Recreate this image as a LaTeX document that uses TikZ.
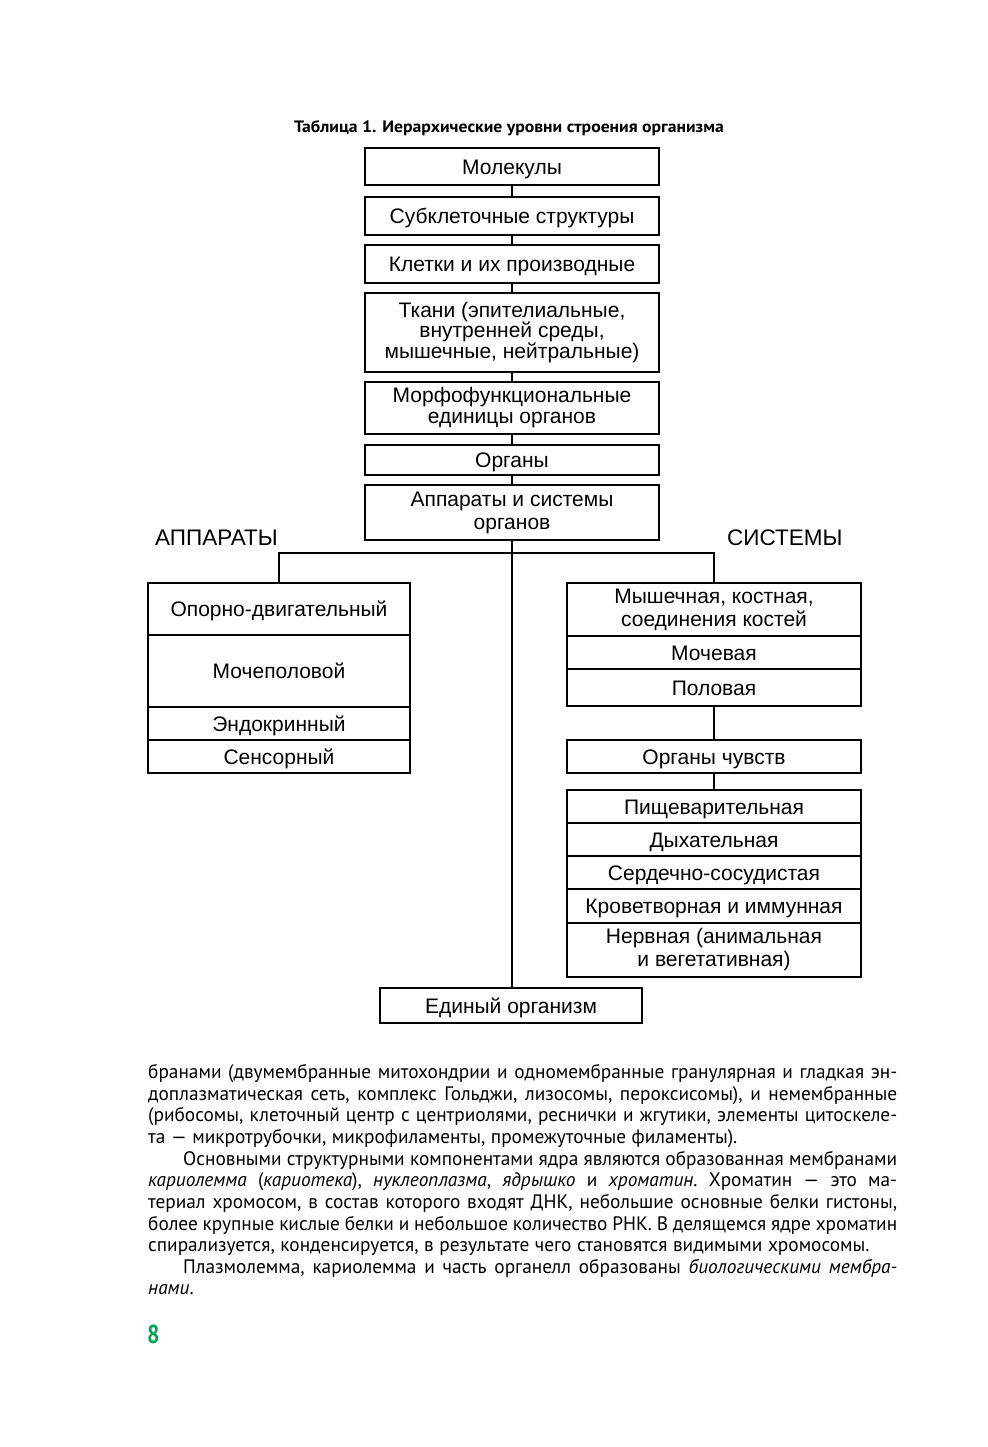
\documentclass[tikz,border=0pt]{standalone}
\usepackage{fontspec}
\setmainfont{Liberation Sans}
\newfontfamily\bodyfont[FakeStretch=0.99]{PT Sans}
\newfontfamily\titlefont[FakeStretch=1.07]{PT Sans}
\newfontfamily\numfont[FakeStretch=0.85]{PT Sans}
\definecolor{pagegreen}{RGB}{0,166,81}
\newcommand\diagfont[1]{\fontsize{21}{#1}\selectfont}
\newcommand\bodyline[2]{\makebox[#1][s]{#2}}
\newcommand\bodysetup{\bodyfont\fontsize{19.5}{21.7}\selectfont\frenchspacing\spaceskip=5.6pt plus 8pt minus 1.5pt\relax}
\tikzset{
  box/.style={draw, line width=2.8pt, inner sep=0pt, align=center, font=\diagfont{21.5}},
  one/.style={text height=19.5pt, text depth=4.4pt},
  conn/.style={line width=2.2pt},
  bodytext/.style={anchor=base west, inner sep=0pt, font=\bodysetup},
  label/.style={anchor=base west, inner sep=0pt, font=\fontsize{22.5}{24}\selectfont},
}
\begin{document}
\begin{tikzpicture}[x=1pt,y=-1pt]
\useasboundingbox[fill=white] (0,0) rectangle (987,1447);

\node[font=\titlefont\bfseries\fontsize{16.5}{18}\selectfont] (title) at (509,128) {Таблица 1. Иерархические уровни строения организма};

% central column
\node[box, one, minimum width=294, minimum height=37] (mol) at (512,166.5) {Молекулы};
\node[box, one, minimum width=294, minimum height=38] (sub) at (512,216) {Субклеточные структуры};
\node[box, one, minimum width=294, minimum height=38] (cell) at (512,264) {Клетки и их производные};
\node[box, minimum width=294, minimum height=79, font=\diagfont{20.5}] (tis) at (512,332.5) {Ткани (эпителиальные,\\внутренней среды,\\мышечные, нейтральные)};
\node[box, minimum width=294, minimum height=52, font=\diagfont{21}] (morph) at (512,408) {Морфофункциональные\\единицы органов};
\node[box, one, minimum width=294, minimum height=30] (org) at (512,460) {Органы};
\node[box, minimum width=294, minimum height=55, font=\diagfont{23}] (app) at (512,512.5) {Аппараты и системы\\органов};
\node[box, one, minimum width=262, minimum height=35] (edin) at (511,1005.5) {Единый организм};

\node[label] (lapp) at (155,545) {АППАРАТЫ};
\node[label] (lsys) at (727,545) {СИСТЕМЫ};

% left column
\node[box, one, minimum width=262, minimum height=52] (op) at (279,609) {Опорно-двигательный};
\node[box, minimum width=262, minimum height=72] (moch) at (279,671) {Мочеполовой};
\node[box, one, minimum width=262, minimum height=33] (endo) at (279,723.5) {Эндокринный};
\node[box, one, minimum width=262, minimum height=33] (sens) at (279,756.5) {Сенсорный};

% right column
\node[box, minimum width=294, minimum height=53, font=\diagfont{23}] (mysh) at (714,609.5) {Мышечная, костная,\\соединения костей};
\node[box, one, minimum width=294, minimum height=33] (mochev) at (714,652.5) {Мочевая};
\node[box, one, minimum width=294, minimum height=37] (pol) at (714,687.5) {Половая};
\node[box, one, minimum width=294, minimum height=33] (chuv) at (714,756.5) {Органы чувств};
\node[box, one, minimum width=294, minimum height=33] (pisch) at (714,806.5) {Пищеварительная};
\node[box, one, minimum width=294, minimum height=33] (dyh) at (714,839.5) {Дыхательная};
\node[box, one, minimum width=294, minimum height=33] (serd) at (714,872.5) {Сердечно-сосудистая};
\node[box, one, minimum width=294, minimum height=34] (krov) at (714,906) {Кроветворная и иммунная};
\node[box, minimum width=294, minimum height=54, font=\diagfont{23}] (nerv) at (714,950) {Нервная (анимальная\\и вегетативная)};

% connectors
\coordinate (bus) at (512,553);
\draw[conn] (mol.south) -- (sub.north);
\draw[conn] (sub.south) -- (cell.north);
\draw[conn] (cell.south) -- (tis.north);
\draw[conn] (tis.south) -- (morph.north);
\draw[conn] (morph.south) -- (org.north);
\draw[conn] (org.south) -- (app.north);
\draw[conn] (app.south) -- (app.south |- edin.north);
\draw[conn] (op.north) |- (bus) -| (mysh.north);
\draw[conn] (pol.south) -- (chuv.north);
\draw[conn] (chuv.south) -- (pisch.north);

% body text
\node[bodytext] (t1) at (148,1078) {\bodyline{749pt}{бранами (двумембранные митохондрии и одномембранные гранулярная и гладкая эн-}};
\node[bodytext] (t2) at (148,1100) {\bodyline{749pt}{доплазматическая сеть, комплекс Гольджи, лизосомы, пероксисомы), и немембранные}};
\node[bodytext] (t3) at (148,1121.5) {\bodyline{749pt}{(рибосомы, клеточный центр с центриолями, реснички и жгутики,  элементы цитоскеле-}};
\node[bodytext] (t4) at (148,1143) {та — микротрубочки, микрофиламенты, промежуточные филаменты).};
\node[bodytext] (t5) at (183,1165) {\bodyline{714pt}{Основными структурными компонентами ядра являются образованная мембранами}};
\node[bodytext] (t6) at (148,1186.5) {\bodyline{749pt}{\textit{кариолемма} (\textit{кариотека}), \textit{нуклеоплазма}, \textit{ядрышко} и \textit{хроматин}. Хроматин — это ма-}};
\node[bodytext] (t7) at (148,1208) {\bodyline{749pt}{териал хромосом, в состав которого входят ДНК, небольшие основные белки гистоны,}};
\node[bodytext] (t8) at (148,1230) {\bodyline{749pt}{более крупные кислые белки и небольшое количество РНК. В делящемся ядре хроматин}};
\node[bodytext] (t9) at (148,1251) {спирализуется, конденсируется, в результате чего становятся видимыми хромосомы.};
\node[bodytext] (t10) at (183,1273) {\bodyline{714pt}{Плазмолемма, кариолемма и часть органелл образованы \textit{биологическими мембра-}}};
\node[bodytext] (t11) at (148,1294.5) {\textit{нами}.};

\node[anchor=base west, inner sep=0pt, text=pagegreen, font=\numfont\bfseries\fontsize{26}{28}\selectfont] (pnum) at (147,1343) {8};
\end{tikzpicture}
\end{document}
